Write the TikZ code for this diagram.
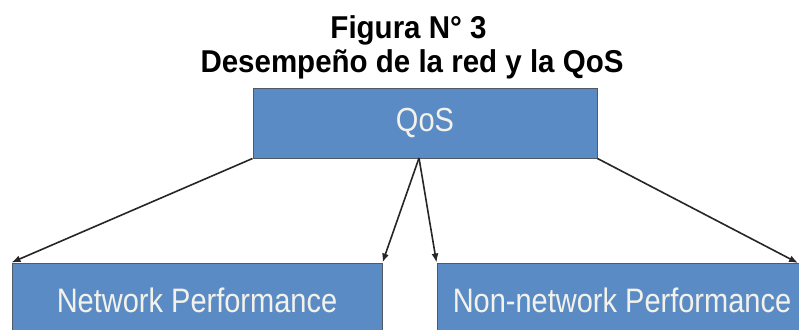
\documentclass[tikz,border=0pt]{standalone}
\usepackage{fontspec}
\setmainfont{Liberation Sans}
\usetikzlibrary{arrows.meta}
\definecolor{boxblue}{HTML}{5B8BC5}
\definecolor{boxline}{HTML}{4F5A66}
\definecolor{boxtext}{HTML}{F2F2EA}
\tikzset{
  bluebox/.style={draw=boxline, line width=1pt, fill=boxblue, text=boxtext,
    inner sep=0pt, font=\fontsize{29}{29}\selectfont},
  arr/.style={draw=black!85, line width=1.6pt, -{Latex[length=9pt,width=7pt]}},
  titletext/.style={font=\fontsize{29.5}{30}\selectfont\bfseries, anchor=base, inner sep=0pt}
}
\begin{document}
\begin{tikzpicture}[x=1pt,y=-1pt]
\useasboundingbox[fill=white] (0,0) rectangle (799,329);
\node[titletext] (t1) at (408.5,38) {\scalebox{1}[1.07]{Figura N° 3}};
\node[titletext] (t2) at (412,72) {\scalebox{1}[1.07]{Desempeño de la red y la QoS}};
\node[bluebox, minimum width=344pt, minimum height=70pt] (qos) at (425,123)
  {\scalebox{1}[1.15]{QoS}};
\node[bluebox, minimum width=370pt, minimum height=74pt] (np) at (197,300)
  {\scalebox{1}[1.17]{Network Performance}};
\node[bluebox, minimum width=370pt, minimum height=74pt] (nnp) at (622,300)
  {\scalebox{1}[1.17]{Non-network Performance}};
\coordinate (split) at (419,158);
\coordinate (rend) at (798,263);
\draw[arr] (qos.south west) -- (np.north west);
\draw[arr] (split) -- (np.north east);
\draw[arr] (split) -- (nnp.north west);
\draw[arr] (qos.south east) -- (rend);
\end{tikzpicture}
\end{document}
